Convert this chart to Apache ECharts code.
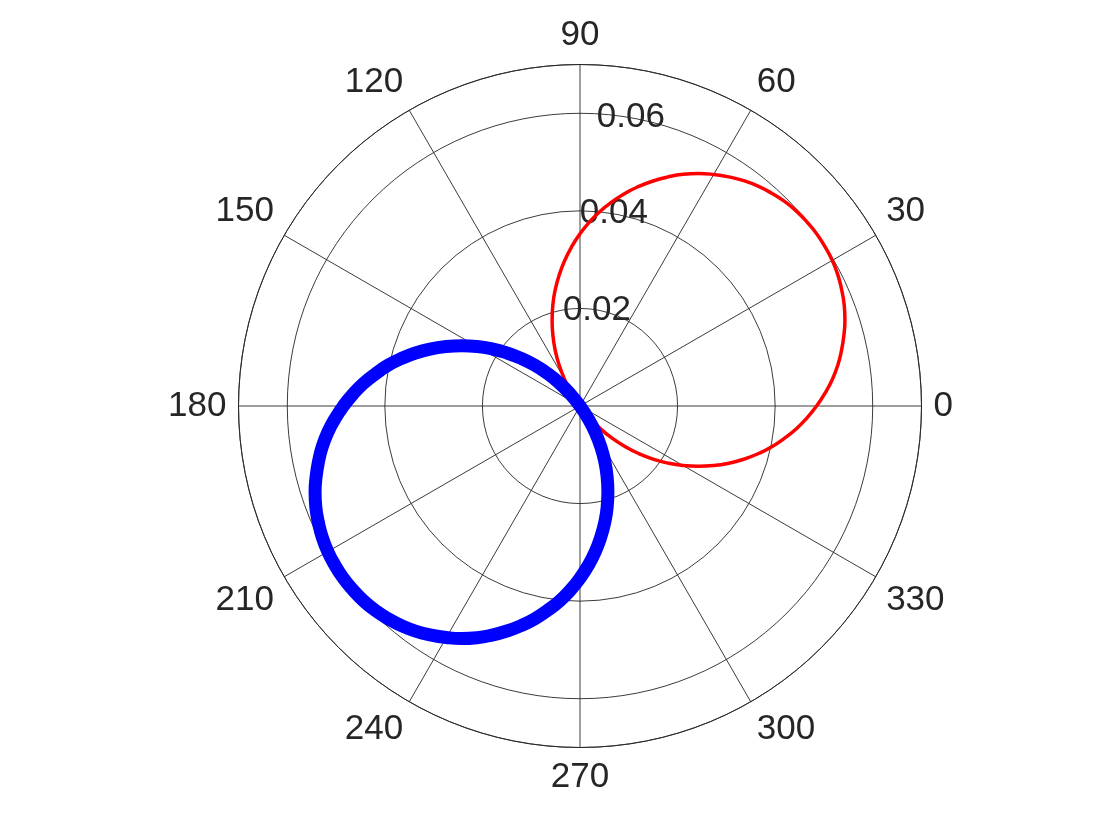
<!DOCTYPE html>
<html>
<head>
<meta charset="utf-8">
<script src="https://cdn.jsdelivr.net/npm/echarts@6/dist/echarts.min.js"></script>
<style>
  html, body { margin: 0; padding: 0; background: #fff; }
  #chart { width: 1120px; height: 840px; }
</style>
</head>
<body>
<div id="chart"></div>
<script>
// angle ticks (deg) and radius ticks
var angleTicks = [0, 30, 60, 90, 120, 150, 180, 210, 240, 270, 300, 330];
var radiusTicks = [0.02, 0.04, 0.06];

// red loop (angle deg, radius)
var redAngle = [306, 309, 312, 315, 318, 321, 324, 327, 330, 333, 336, 339, 342, 345, 348, 351, 354, 357,
  0, 3, 6, 9, 12, 15, 18, 21, 24, 27, 30, 33, 36, 39, 42, 45, 48, 51, 54, 57, 60, 63, 66, 69, 72, 75,
  78, 81, 84, 87, 90, 93, 96, 99, 102, 105, 108, 111, 114, 117, 120, 123, 126];
var redR = [0, 0.0031, 0.0063, 0.0094, 0.0125, 0.0155, 0.0185, 0.0215, 0.0244, 0.0272, 0.03, 0.0327,
  0.0353, 0.0378, 0.0402, 0.0424, 0.0446, 0.0466, 0.0485, 0.0503, 0.052, 0.0535, 0.0548, 0.056, 0.0571,
  0.058, 0.0587, 0.0593, 0.0597, 0.0599, 0.06, 0.0599, 0.0597, 0.0593, 0.0587, 0.058, 0.0571, 0.056,
  0.0548, 0.0535, 0.052, 0.0503, 0.0485, 0.0466, 0.0446, 0.0424, 0.0402, 0.0378, 0.0353, 0.0327, 0.03,
  0.0272, 0.0244, 0.0215, 0.0185, 0.0155, 0.0125, 0.0094, 0.0063, 0.0031, 0];

// blue loop (drawn thick)
var blueAngle = [126, 129, 132, 135, 138, 141, 144, 147, 150, 153, 156, 159, 162, 165, 168, 171, 174,
  177, 180, 183, 186, 189, 192, 195, 198, 201, 204, 207, 210, 213, 216, 219, 222, 225, 228, 231, 234,
  237, 240, 243, 246, 249, 252, 255, 258, 261, 264, 267, 270, 273, 276, 279, 282, 285, 288, 291, 294,
  297, 300, 303, 306];
var blueR = [0, 0.0031, 0.0063, 0.0094, 0.0125, 0.0155, 0.0185, 0.0215, 0.0244, 0.0272, 0.03, 0.0327,
  0.0353, 0.0378, 0.0402, 0.0424, 0.0446, 0.0466, 0.0485, 0.0503, 0.052, 0.0535, 0.0548, 0.056, 0.0571,
  0.058, 0.0587, 0.0593, 0.0597, 0.0599, 0.06, 0.0599, 0.0597, 0.0593, 0.0587, 0.058, 0.0571, 0.056,
  0.0548, 0.0535, 0.052, 0.0503, 0.0485, 0.0466, 0.0446, 0.0424, 0.0402, 0.0378, 0.0353, 0.0327, 0.03,
  0.0272, 0.0244, 0.0215, 0.0185, 0.0155, 0.0125, 0.0094, 0.0063, 0.0031, 0];

function pairs(r, a) {
  return r.map(function (v, i) { return [v, a[i]]; });
}

var gridColor = '#262626';
var textStyle = { color: '#262626', fontSize: 35, fontFamily: 'Liberation Sans, Arial, sans-serif' };

var chart = echarts.init(document.getElementById('chart'));
chart.setOption({
  backgroundColor: '#ffffff',
  animation: false,
  polar: [
    { center: [580, 406], radius: 341.5 },
    { center: [580, 406], radius: 341.5 }   // only for the r tick labels at 80 deg
  ],
  angleAxis: [{
    polarIndex: 0,
    type: 'value',
    min: 0,
    max: 360,
    interval: 30,
    startAngle: 0,
    clockwise: false,
    axisLine: { show: true, lineStyle: { color: gridColor, width: 0.9 } },
    axisTick: { show: false },
    splitLine: { show: true, lineStyle: { color: gridColor, width: 0.9 } },
    axisLabel: Object.assign({
      margin: 12,
      formatter: function (v) { return angleTicks.indexOf(v) >= 0 ? String(v) : ''; }
    }, textStyle)
  }, {
    polarIndex: 1,
    type: 'value',
    min: 0,
    max: 360,
    startAngle: 80,
    clockwise: false,
    show: false
  }],
  radiusAxis: [{
    polarIndex: 0,
    type: 'value',
    min: 0,
    max: 0.07,
    interval: 0.02,
    axisLine: { show: false },
    axisTick: { show: false },
    axisLabel: { show: false },
    splitLine: { show: true, lineStyle: { color: gridColor, width: 0.9 } }
  }, {
    polarIndex: 1,
    type: 'value',
    min: 0,
    max: 0.07,
    interval: 0.02,
    axisLine: { show: false },
    axisTick: { show: false },
    splitLine: { show: false },
    axisLabel: Object.assign({
      margin: 0,
      rotate: 0,
      align: 'center',
      verticalAlign: 'middle',
      formatter: function (v) {
        return radiusTicks.some(function (t) { return Math.abs(t - v) < 1e-9; }) ? v.toFixed(2) : '';
      }
    }, textStyle)
  }],
  series: [{
    type: 'line',
    coordinateSystem: 'polar',
    polarIndex: 0,
    symbol: 'none',
    smooth: true,
    lineStyle: { color: '#ff0000', width: 3.5 },
    data: pairs(redR, redAngle),
    z: 3
  }, {
    type: 'line',
    coordinateSystem: 'polar',
    polarIndex: 0,
    symbol: 'none',
    smooth: true,
    lineStyle: { color: '#0000ff', width: 13 },
    data: pairs(blueR, blueAngle),
    z: 4
  }]
});
</script>
</body>
</html>
